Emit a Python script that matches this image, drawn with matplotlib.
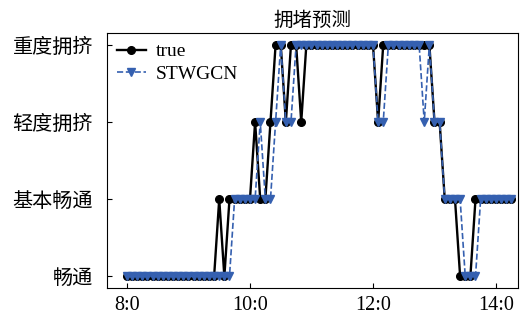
import matplotlib.pyplot as plt
import numpy as np

# 5-minute steps starting at 8:00
minutes = np.arange(0, 380, 5)

true_level = [0, 0, 0, 0, 0, 0, 0, 0, 0, 0, 0, 0, 0, 0, 0, 0, 0, 0,
              1, 0, 1, 1, 1, 1, 1,
              2, 1, 1, 2, 3, 3, 2, 3, 3, 2,
              3, 3, 3, 3, 3, 3, 3, 3, 3, 3, 3, 3, 3, 3,
              2,
              3, 3, 3, 3, 3, 3, 3, 3, 3, 3,
              2, 2, 1, 1, 1, 0, 0, 0,
              1, 1, 1, 1, 1, 1, 1, 1]

pred_level = [0, 0, 0, 0, 0, 0, 0, 0, 0, 0, 0, 0, 0, 0, 0, 0, 0, 0, 0, 0, 0,
              1, 1, 1, 1, 1,
              2, 1, 1, 2, 3, 2, 2,
              3, 3, 3, 3, 3, 3, 3, 3, 3, 3, 3, 3, 3, 3, 3, 3,
              2, 2,
              3, 3, 3, 3, 3, 3, 3,
              2, 3, 2, 2, 1, 1, 1, 1, 0, 0, 0,
              1, 1, 1, 1, 1, 1, 1]

level_names = ["畅通", "基本畅通", "轻度拥挤", "重度拥挤"]
tick_minutes = [0, 120, 240, 360]
tick_names = ["8:0", "10:0", "12:0", "14:0"]

plt.rcParams['font.family'] = ['Liberation Serif', 'Noto Sans CJK SC']

fig = plt.figure(figsize=(5.27, 3.27), dpi=100)
ax = fig.add_axes([0.203, 0.119, 0.78, 0.78])

ax.plot(minutes, true_level, color="black", lw=1.7, marker="o", ms=5.5,
        label="true")
ax.plot(minutes, pred_level, color="#3560b0", lw=1.2, ls="--", marker="v",
        ms=5.5, label="STWGCN")

ax.set_xlim(-19.5, 381.5)
ax.set_ylim(-0.15, 3.15)
ax.set_yticks(range(4))
ax.set_yticklabels(level_names, family=['Noto Sans CJK SC'], fontsize=14.5)
ax.set_xticks(tick_minutes)
ax.set_xticklabels(tick_names, fontsize=14.5)
ax.tick_params(direction="in", length=3.5)
ax.tick_params(axis="y", pad=10)
ax.tick_params(axis="x", pad=6)

ax.set_title("拥堵预测", family=['Noto Sans CJK SC'], fontsize=14, pad=5)
ax.legend(loc="upper left", frameon=False, fontsize=14, handlelength=1.5,
          borderaxespad=0.1, labelspacing=0.25, handletextpad=0.5)

fig.savefig("out.png")
